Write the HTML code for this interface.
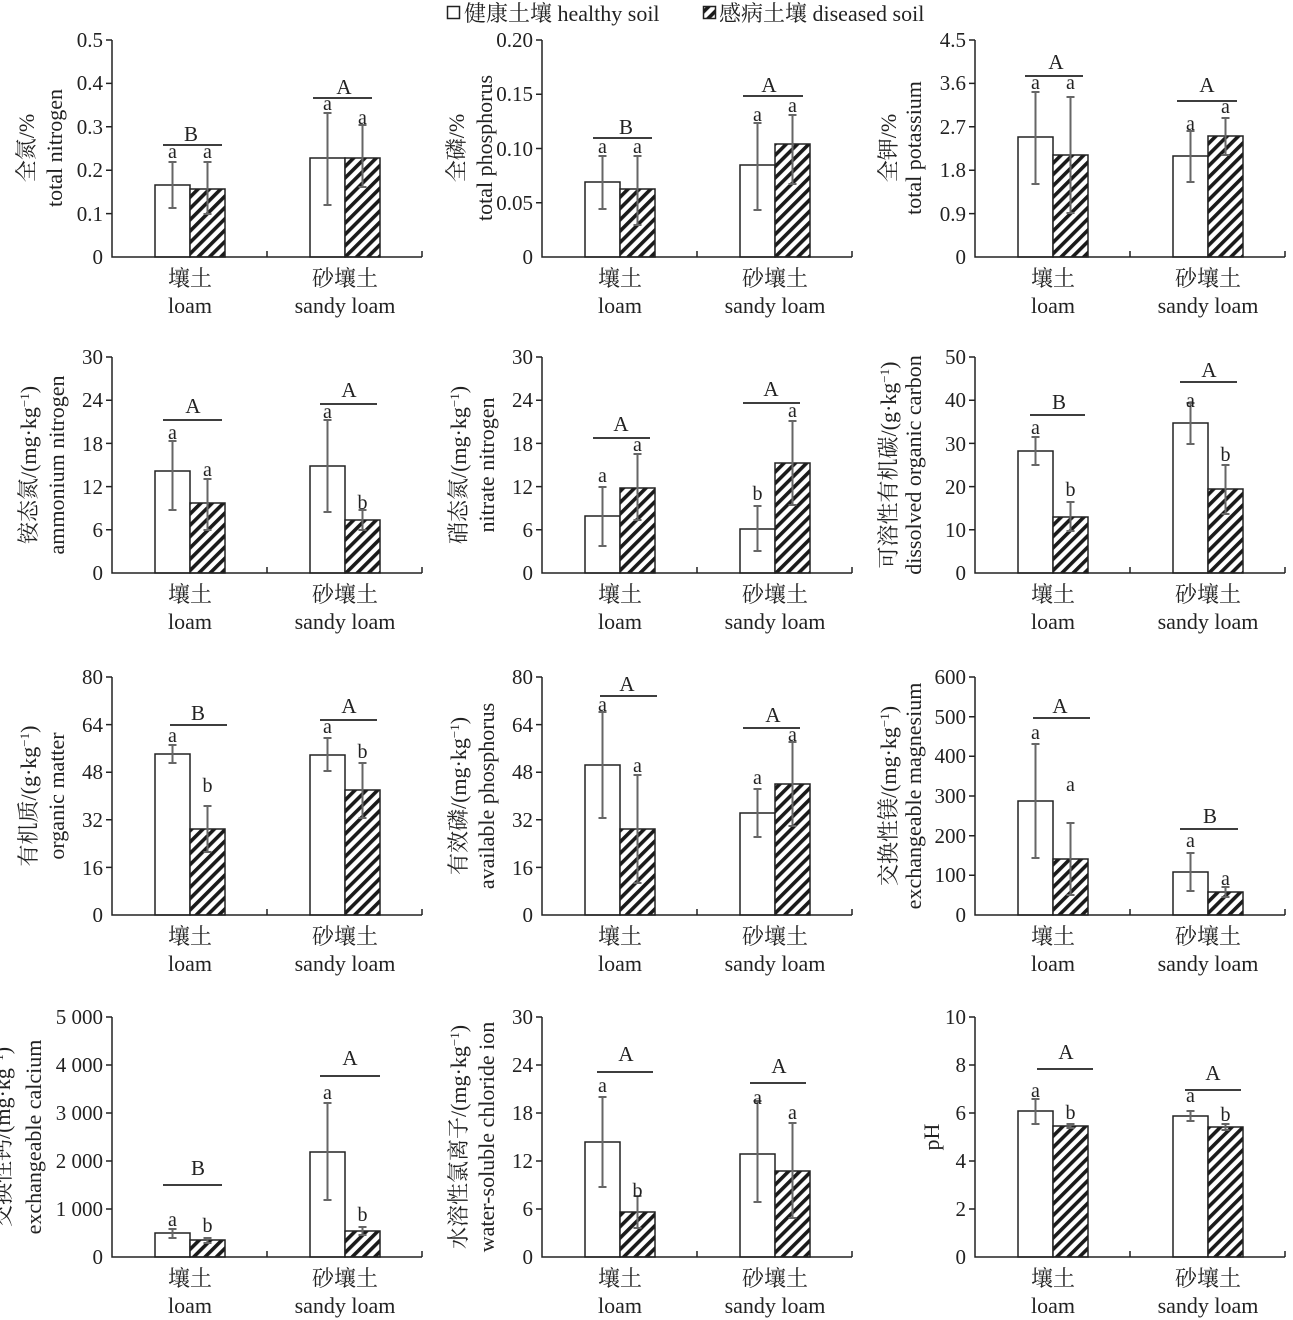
<!DOCTYPE html>
<html><head><meta charset="utf-8"><style>
html,body{margin:0;padding:0;background:#fff}
svg{display:block}
text{font-family:"Liberation Serif","Noto Serif CJK SC","Noto Sans CJK SC",serif;fill:#222}
.t{font-size:21px;text-anchor:end}
.c{font-size:22px;text-anchor:middle}
.l{font-size:20px;text-anchor:middle}
.g{font-size:21px;text-anchor:middle}
.yl{font-size:22px;text-anchor:middle}
.bh{fill:#fff;stroke:#222;stroke-width:1.5}
.bd{fill:url(#h);stroke:#222;stroke-width:1.5}
.e{stroke:#666;stroke-width:2;fill:none}
.ax{stroke:#222;stroke-width:1.5;fill:none}
.sl{stroke:#222;stroke-width:1.8}
</style></head><body>
<svg width="1293" height="1320" viewBox="0 0 1293 1320" xmlns="http://www.w3.org/2000/svg">
<defs>
<pattern id="h" patternUnits="userSpaceOnUse" width="8" height="8" patternTransform="rotate(45)">
<rect width="8" height="8" fill="#fff"/><rect x="0" y="0" width="3.6" height="8" fill="#1a1a1a"/>
</pattern>
</defs>

<rect x="447.5" y="6.5" width="12" height="12" fill="#fff" stroke="#222" stroke-width="1.5"/>
<text x="464" y="21" style="font-size:22px">健康土壤 healthy soil</text>
<rect x="703.5" y="6.5" width="12" height="12" fill="url(#h)" stroke="#222" stroke-width="1.5"/>
<text x="719" y="21" style="font-size:22px">感病土壤 diseased soil</text>

<!-- P1 -->
<g>
<rect class="bh" x="155" y="185" width="35" height="72"/><rect class="bd" x="190" y="189" width="35" height="68"/>
<rect class="bh" x="310" y="158" width="35" height="99"/><rect class="bd" x="345" y="158" width="35" height="99"/>
<path class="e" d="M172.5 162V208M168.5 162h8M168.5 208h8M207.5 162V214M203.5 162h8M203.5 214h8M327.5 113V205M323.5 113h8M323.5 205h8M362.5 125V187M358.5 125h8M358.5 187h8"/>
<path class="ax" d="M112 40V257H422M106 40H112M106 83.4H112M106 126.8H112M106 170.2H112M106 213.6H112M267 257V251M422 257V251"/>
<text class="t" x="103" y="47">0.5</text><text class="t" x="103" y="90">0.4</text><text class="t" x="103" y="134">0.3</text><text class="t" x="103" y="177">0.2</text><text class="t" x="103" y="221">0.1</text><text class="t" x="103" y="264">0</text>
<line class="sl" x1="163" y1="145" x2="222" y2="145"/><text class="g" x="191" y="141">B</text>
<line class="sl" x1="313" y1="98" x2="372" y2="98"/><text class="g" x="344" y="94">A</text>
<text class="l" x="172.5" y="158">a</text><text class="l" x="207.5" y="158">a</text><text class="l" x="327.5" y="110">a</text><text class="l" x="362.5" y="124">a</text>
<text class="yl" transform="translate(34,148) rotate(-90)">全氮/%</text>
<text class="yl" transform="translate(62,148) rotate(-90)">total nitrogen</text>
<text class="c" x="190" y="286">壤土</text><text class="c" x="190" y="313">loam</text>
<text class="c" x="345" y="286">砂壤土</text><text class="c" x="345" y="313">sandy loam</text>
</g>
<!-- P2 -->
<g transform="translate(430,0)">
<rect class="bh" x="155" y="182" width="35" height="75"/><rect class="bd" x="190" y="189" width="35" height="68"/>
<rect class="bh" x="310" y="165" width="35" height="92"/><rect class="bd" x="345" y="144" width="35" height="113"/>
<path class="e" d="M172.5 156V209M168.5 156h8M168.5 209h8M207.5 156V225M203.5 156h8M203.5 225h8M327.5 123V210M323.5 123h8M323.5 210h8M362.5 115V184M358.5 115h8M358.5 184h8"/>
<path class="ax" d="M112 40V257H422M106 40H112M106 94.25H112M106 148.5H112M106 202.75H112M267 257V251M422 257V251"/>
<text class="t" x="103" y="47">0.20</text><text class="t" x="103" y="101">0.15</text><text class="t" x="103" y="156">0.10</text><text class="t" x="103" y="210">0.05</text><text class="t" x="103" y="264">0</text>
<line class="sl" x1="163" y1="138" x2="222" y2="138"/><text class="g" x="196" y="134">B</text>
<line class="sl" x1="313" y1="96" x2="373" y2="96"/><text class="g" x="339" y="92">A</text>
<text class="l" x="172.5" y="153">a</text><text class="l" x="207.5" y="153">a</text><text class="l" x="327.5" y="121">a</text><text class="l" x="362.5" y="112">a</text>
<text class="yl" transform="translate(34,148) rotate(-90)">全磷/%</text>
<text class="yl" transform="translate(62,148) rotate(-90)">total phosphorus</text>
<text class="c" x="190" y="286">壤土</text><text class="c" x="190" y="313">loam</text>
<text class="c" x="345" y="286">砂壤土</text><text class="c" x="345" y="313">sandy loam</text>
</g>
<!-- P3 -->
<g transform="translate(863,0)">
<rect class="bh" x="155" y="137" width="35" height="120"/><rect class="bd" x="190" y="155" width="35" height="102"/>
<rect class="bh" x="310" y="156" width="35" height="101"/><rect class="bd" x="345" y="136" width="35" height="121"/>
<path class="e" d="M172.5 92V184M168.5 92h8M168.5 184h8M207.5 97V213M203.5 97h8M203.5 213h8M327.5 131V182M323.5 131h8M323.5 182h8M362.5 118V155M358.5 118h8M358.5 155h8"/>
<path class="ax" d="M112 40V257H422M106 40H112M106 83.4H112M106 126.8H112M106 170.2H112M106 213.6H112M267 257V251M422 257V251"/>
<text class="t" x="103" y="47">4.5</text><text class="t" x="103" y="90">3.6</text><text class="t" x="103" y="134">2.7</text><text class="t" x="103" y="177">1.8</text><text class="t" x="103" y="221">0.9</text><text class="t" x="103" y="264">0</text>
<line class="sl" x1="162" y1="76" x2="220" y2="76"/><text class="g" x="193" y="69">A</text>
<line class="sl" x1="314" y1="101" x2="374" y2="101"/><text class="g" x="344" y="92">A</text>
<text class="l" x="172.5" y="89">a</text><text class="l" x="207.5" y="89">a</text><text class="l" x="327.5" y="130">a</text><text class="l" x="362.5" y="113">a</text>
<text class="yl" transform="translate(33,148) rotate(-90)">全钾/%</text>
<text class="yl" transform="translate(58,148) rotate(-90)">total potassium</text>
<text class="c" x="190" y="286">壤土</text><text class="c" x="190" y="313">loam</text>
<text class="c" x="345" y="286">砂壤土</text><text class="c" x="345" y="313">sandy loam</text>
</g>

<!-- P4 -->
<g>
<rect class="bh" x="155" y="471" width="35" height="102"/><rect class="bd" x="190" y="503" width="35" height="70"/>
<rect class="bh" x="310" y="466" width="35" height="107"/><rect class="bd" x="345" y="520" width="35" height="53"/>
<path class="e" d="M172.5 441V510M168.5 441h8M168.5 510h8M207.5 479V530M203.5 479h8M203.5 530h8M327.5 420V512M323.5 420h8M323.5 512h8M362.5 510V530M358.5 510h8M358.5 530h8"/>
<path class="ax" d="M112 357V573H422M106 357H112M106 400.2H112M106 443.4H112M106 486.6H112M106 529.8H112M267 573V567M422 573V567"/>
<text class="t" x="103" y="364">30</text><text class="t" x="103" y="407">24</text><text class="t" x="103" y="451">18</text><text class="t" x="103" y="494">12</text><text class="t" x="103" y="537">6</text><text class="t" x="103" y="580">0</text>
<line class="sl" x1="163" y1="420" x2="222" y2="420"/><text class="g" x="193" y="413">A</text>
<line class="sl" x1="320" y1="404" x2="377" y2="404"/><text class="g" x="349" y="397">A</text>
<text class="l" x="172.5" y="439">a</text><text class="l" x="207.5" y="476">a</text><text class="l" x="327.5" y="418">a</text><text class="l" x="362.5" y="509">b</text>
<text class="yl" transform="translate(36,465) rotate(-90)">铵态氮/(mg·kg<tspan dy="-7" style="font-size:13px">−1</tspan><tspan dy="7">)</tspan></text>
<text class="yl" transform="translate(64,465) rotate(-90)">ammonium nitrogen</text>
<text class="c" x="190" y="602">壤土</text><text class="c" x="190" y="629">loam</text>
<text class="c" x="345" y="602">砂壤土</text><text class="c" x="345" y="629">sandy loam</text>
</g>
<!-- P5 -->
<g transform="translate(430,0)">
<rect class="bh" x="155" y="516" width="35" height="57"/><rect class="bd" x="190" y="488" width="35" height="85"/>
<rect class="bh" x="310" y="529" width="35" height="44"/><rect class="bd" x="345" y="463" width="35" height="110"/>
<path class="e" d="M172.5 487V546M168.5 487h8M168.5 546h8M207.5 454V520M203.5 454h8M203.5 520h8M327.5 506V551M323.5 506h8M323.5 551h8M362.5 421V505M358.5 421h8M358.5 505h8"/>
<path class="ax" d="M112 357V573H422M106 357H112M106 400.2H112M106 443.4H112M106 486.6H112M106 529.8H112M267 573V567M422 573V567"/>
<text class="t" x="103" y="364">30</text><text class="t" x="103" y="407">24</text><text class="t" x="103" y="451">18</text><text class="t" x="103" y="494">12</text><text class="t" x="103" y="537">6</text><text class="t" x="103" y="580">0</text>
<line class="sl" x1="163" y1="438" x2="220" y2="438"/><text class="g" x="191" y="431">A</text>
<line class="sl" x1="313" y1="403" x2="370" y2="403"/><text class="g" x="341" y="396">A</text>
<text class="l" x="172.5" y="482">a</text><text class="l" x="207.5" y="451">a</text><text class="l" x="327.5" y="500">b</text><text class="l" x="362.5" y="417">a</text>
<text class="yl" transform="translate(36,465) rotate(-90)">硝态氮/(mg·kg<tspan dy="-7" style="font-size:13px">−1</tspan><tspan dy="7">)</tspan></text>
<text class="yl" transform="translate(64,465) rotate(-90)">nitrate nitrogen</text>
<text class="c" x="190" y="602">壤土</text><text class="c" x="190" y="629">loam</text>
<text class="c" x="345" y="602">砂壤土</text><text class="c" x="345" y="629">sandy loam</text>
</g>
<!-- P6 -->
<g transform="translate(863,0)">
<rect class="bh" x="155" y="451" width="35" height="122"/><rect class="bd" x="190" y="517" width="35" height="56"/>
<rect class="bh" x="310" y="423" width="35" height="150"/><rect class="bd" x="345" y="489" width="35" height="84"/>
<path class="e" d="M172.5 437V465M168.5 437h8M168.5 465h8M207.5 502V531M203.5 502h8M203.5 531h8M327.5 403V444M323.5 403h8M323.5 444h8M362.5 465V514M358.5 465h8M358.5 514h8"/>
<path class="ax" d="M112 357V573H422M106 357H112M106 400.2H112M106 443.4H112M106 486.6H112M106 529.8H112M267 573V567M422 573V567"/>
<text class="t" x="103" y="364">50</text><text class="t" x="103" y="407">40</text><text class="t" x="103" y="451">30</text><text class="t" x="103" y="494">20</text><text class="t" x="103" y="537">10</text><text class="t" x="103" y="580">0</text>
<line class="sl" x1="167" y1="415" x2="222" y2="415"/><text class="g" x="196" y="409">B</text>
<line class="sl" x1="317" y1="382" x2="374" y2="382"/><text class="g" x="346" y="377">A</text>
<text class="l" x="172.5" y="434">a</text><text class="l" x="207.5" y="496">b</text><text class="l" x="327.5" y="407">a</text><text class="l" x="362.5" y="461">b</text>
<text class="yl" transform="translate(33,465) rotate(-90)">可溶性有机碳/(g·kg<tspan dy="-7" style="font-size:13px">−1</tspan><tspan dy="7">)</tspan></text>
<text class="yl" transform="translate(58,465) rotate(-90)">dissolved organic carbon</text>
<text class="c" x="190" y="602">壤土</text><text class="c" x="190" y="629">loam</text>
<text class="c" x="345" y="602">砂壤土</text><text class="c" x="345" y="629">sandy loam</text>
</g>

<!-- P7 -->
<g>
<rect class="bh" x="155" y="754" width="35" height="161"/><rect class="bd" x="190" y="829" width="35" height="86"/>
<rect class="bh" x="310" y="755" width="35" height="160"/><rect class="bd" x="345" y="790" width="35" height="125"/>
<path class="e" d="M172.5 745V763M168.5 745h8M168.5 763h8M207.5 806V852M203.5 806h8M203.5 852h8M327.5 738V771M323.5 738h8M323.5 771h8M362.5 763V818M358.5 763h8M358.5 818h8"/>
<path class="ax" d="M112 677V915H422M106 677H112M106 724.6H112M106 772.2H112M106 819.8H112M106 867.4H112M267 915V909M422 915V909"/>
<text class="t" x="103" y="684">80</text><text class="t" x="103" y="732">64</text><text class="t" x="103" y="779">48</text><text class="t" x="103" y="827">32</text><text class="t" x="103" y="875">16</text><text class="t" x="103" y="922">0</text>
<line class="sl" x1="170" y1="725" x2="227" y2="725"/><text class="g" x="198" y="720">B</text>
<line class="sl" x1="320" y1="720" x2="377" y2="720"/><text class="g" x="349" y="713">A</text>
<text class="l" x="172.5" y="742">a</text><text class="l" x="207.5" y="792">b</text><text class="l" x="327.5" y="733">a</text><text class="l" x="362.5" y="758">b</text>
<text class="yl" transform="translate(36,796) rotate(-90)">有机质/(g·kg<tspan dy="-7" style="font-size:13px">−1</tspan><tspan dy="7">)</tspan></text>
<text class="yl" transform="translate(64,796) rotate(-90)">organic matter</text>
<text class="c" x="190" y="944">壤土</text><text class="c" x="190" y="971">loam</text>
<text class="c" x="345" y="944">砂壤土</text><text class="c" x="345" y="971">sandy loam</text>
</g>
<!-- P8 -->
<g transform="translate(430,0)">
<rect class="bh" x="155" y="765" width="35" height="150"/><rect class="bd" x="190" y="829" width="35" height="86"/>
<rect class="bh" x="310" y="813" width="35" height="102"/><rect class="bd" x="345" y="784" width="35" height="131"/>
<path class="e" d="M172.5 712V818M168.5 712h8M168.5 818h8M207.5 775V883M203.5 775h8M203.5 883h8M327.5 789V837M323.5 789h8M323.5 837h8M362.5 742V826M358.5 742h8M358.5 826h8"/>
<path class="ax" d="M112 677V915H422M106 677H112M106 724.6H112M106 772.2H112M106 819.8H112M106 867.4H112M267 915V909M422 915V909"/>
<text class="t" x="103" y="684">80</text><text class="t" x="103" y="732">64</text><text class="t" x="103" y="779">48</text><text class="t" x="103" y="827">32</text><text class="t" x="103" y="875">16</text><text class="t" x="103" y="922">0</text>
<line class="sl" x1="170" y1="696" x2="227" y2="696"/><text class="g" x="197" y="691">A</text>
<line class="sl" x1="313" y1="728" x2="370" y2="728"/><text class="g" x="343" y="722">A</text>
<text class="l" x="172.5" y="711">a</text><text class="l" x="207.5" y="772">a</text><text class="l" x="327.5" y="784">a</text><text class="l" x="362.5" y="741">a</text>
<text class="yl" transform="translate(36,796) rotate(-90)">有效磷/(mg·kg<tspan dy="-7" style="font-size:13px">−1</tspan><tspan dy="7">)</tspan></text>
<text class="yl" transform="translate(64,796) rotate(-90)">available phosphorus</text>
<text class="c" x="190" y="944">壤土</text><text class="c" x="190" y="971">loam</text>
<text class="c" x="345" y="944">砂壤土</text><text class="c" x="345" y="971">sandy loam</text>
</g>
<!-- P9 -->
<g transform="translate(863,0)">
<rect class="bh" x="155" y="801" width="35" height="114"/><rect class="bd" x="190" y="859" width="35" height="56"/>
<rect class="bh" x="310" y="872" width="35" height="43"/><rect class="bd" x="345" y="892" width="35" height="23"/>
<path class="e" d="M172.5 744V858M168.5 744h8M168.5 858h8M207.5 823V895M203.5 823h8M203.5 895h8M327.5 853V891M323.5 853h8M323.5 891h8M362.5 887V897M358.5 887h8M358.5 897h8"/>
<path class="ax" d="M112 677V915H422M106 677H112M106 716.7H112M106 756.3H112M106 796H112M106 835.7H112M106 875.3H112M267 915V909M422 915V909"/>
<text class="t" x="103" y="684">600</text><text class="t" x="103" y="724">500</text><text class="t" x="103" y="763">400</text><text class="t" x="103" y="803">300</text><text class="t" x="103" y="843">200</text><text class="t" x="103" y="882">100</text><text class="t" x="103" y="922">0</text>
<line class="sl" x1="170" y1="718" x2="227" y2="718"/><text class="g" x="197" y="713">A</text>
<line class="sl" x1="317" y1="829" x2="375" y2="829"/><text class="g" x="347" y="823">B</text>
<text class="l" x="172.5" y="739">a</text><text class="l" x="207.5" y="791">a</text><text class="l" x="327.5" y="847">a</text><text class="l" x="362.5" y="885">a</text>
<text class="yl" transform="translate(33,796) rotate(-90)">交换性镁/(mg·kg<tspan dy="-7" style="font-size:13px">−1</tspan><tspan dy="7">)</tspan></text>
<text class="yl" transform="translate(58,796) rotate(-90)">exchangeable magnesium</text>
<text class="c" x="190" y="944">壤土</text><text class="c" x="190" y="971">loam</text>
<text class="c" x="345" y="944">砂壤土</text><text class="c" x="345" y="971">sandy loam</text>
</g>

<!-- P10 -->
<g>
<rect class="bh" x="155" y="1233" width="35" height="24"/><rect class="bd" x="190" y="1240" width="35" height="17"/>
<rect class="bh" x="310" y="1152" width="35" height="105"/><rect class="bd" x="345" y="1231" width="35" height="26"/>
<path class="e" d="M172.5 1229V1238M168.5 1229h8M168.5 1238h8M207.5 1238V1243M203.5 1238h8M203.5 1243h8M327.5 1103V1200M323.5 1103h8M323.5 1200h8M362.5 1227V1235M358.5 1227h8M358.5 1235h8"/>
<path class="ax" d="M112 1017V1257H422M106 1017H112M106 1065H112M106 1113H112M106 1161H112M106 1209H112M267 1257V1251M422 1257V1251"/>
<text class="t" x="103" y="1024">5 000</text><text class="t" x="103" y="1072">4 000</text><text class="t" x="103" y="1120">3 000</text><text class="t" x="103" y="1168">2 000</text><text class="t" x="103" y="1216">1 000</text><text class="t" x="103" y="1264">0</text>
<line class="sl" x1="163" y1="1185" x2="222" y2="1185"/><text class="g" x="198" y="1175">B</text>
<line class="sl" x1="320" y1="1076" x2="380" y2="1076"/><text class="g" x="350" y="1065">A</text>
<text class="l" x="172.5" y="1226">a</text><text class="l" x="207.5" y="1232">b</text><text class="l" x="327.5" y="1099">a</text><text class="l" x="362.5" y="1221">b</text>
<text class="yl" transform="translate(10,1137) rotate(-90)">交换性钙/(mg·kg<tspan dy="-7" style="font-size:13px">−1</tspan><tspan dy="7">)</tspan></text>
<text class="yl" transform="translate(41,1137) rotate(-90)">exchangeable calcium</text>
<text class="c" x="190" y="1286">壤土</text><text class="c" x="190" y="1313">loam</text>
<text class="c" x="345" y="1286">砂壤土</text><text class="c" x="345" y="1313">sandy loam</text>
</g>
<!-- P11 -->
<g transform="translate(430,0)">
<rect class="bh" x="155" y="1142" width="35" height="115"/><rect class="bd" x="190" y="1212" width="35" height="45"/>
<rect class="bh" x="310" y="1154" width="35" height="103"/><rect class="bd" x="345" y="1171" width="35" height="86"/>
<path class="e" d="M172.5 1097V1187M168.5 1097h8M168.5 1187h8M207.5 1196V1228M203.5 1196h8M203.5 1228h8M327.5 1101V1202M323.5 1101h8M323.5 1202h8M362.5 1123V1218M358.5 1123h8M358.5 1218h8"/>
<path class="ax" d="M112 1017V1257H422M106 1017H112M106 1065H112M106 1113H112M106 1161H112M106 1209H112M267 1257V1251M422 1257V1251"/>
<text class="t" x="103" y="1024">30</text><text class="t" x="103" y="1072">24</text><text class="t" x="103" y="1120">18</text><text class="t" x="103" y="1168">12</text><text class="t" x="103" y="1216">6</text><text class="t" x="103" y="1264">0</text>
<line class="sl" x1="167" y1="1072" x2="223" y2="1072"/><text class="g" x="196" y="1061">A</text>
<line class="sl" x1="320" y1="1083" x2="376" y2="1083"/><text class="g" x="349" y="1073">A</text>
<text class="l" x="172.5" y="1092">a</text><text class="l" x="207.5" y="1197">b</text><text class="l" x="327.5" y="1104">a</text><text class="l" x="362.5" y="1119">a</text>
<text class="yl" transform="translate(36,1137) rotate(-90)">水溶性氯离子/(mg·kg<tspan dy="-7" style="font-size:13px">−1</tspan><tspan dy="7">)</tspan></text>
<text class="yl" transform="translate(64,1137) rotate(-90)">water-soluble chloride ion</text>
<text class="c" x="190" y="1286">壤土</text><text class="c" x="190" y="1313">loam</text>
<text class="c" x="345" y="1286">砂壤土</text><text class="c" x="345" y="1313">sandy loam</text>
</g>
<!-- P12 -->
<g transform="translate(863,0)">
<rect class="bh" x="155" y="1111" width="35" height="146"/><rect class="bd" x="190" y="1126" width="35" height="131"/>
<rect class="bh" x="310" y="1116" width="35" height="141"/><rect class="bd" x="345" y="1127" width="35" height="130"/>
<path class="e" d="M172.5 1099V1124M168.5 1099h8M168.5 1124h8M207.5 1124V1128M203.5 1124h8M203.5 1128h8M327.5 1111V1121M323.5 1111h8M323.5 1121h8M362.5 1124V1130M358.5 1124h8M358.5 1130h8"/>
<path class="ax" d="M112 1017V1257H422M106 1017H112M106 1065H112M106 1113H112M106 1161H112M106 1209H112M267 1257V1251M422 1257V1251"/>
<text class="t" x="103" y="1024">10</text><text class="t" x="103" y="1072">8</text><text class="t" x="103" y="1120">6</text><text class="t" x="103" y="1168">4</text><text class="t" x="103" y="1216">2</text><text class="t" x="103" y="1264">0</text>
<line class="sl" x1="174" y1="1069" x2="230" y2="1069"/><text class="g" x="203" y="1059">A</text>
<line class="sl" x1="322" y1="1090" x2="378" y2="1090"/><text class="g" x="350" y="1080">A</text>
<text class="l" x="172.5" y="1097">a</text><text class="l" x="207.5" y="1119">b</text><text class="l" x="327.5" y="1102">a</text><text class="l" x="362.5" y="1121">b</text>
<text class="yl" transform="translate(76,1137) rotate(-90)">pH</text>
<text class="c" x="190" y="1286">壤土</text><text class="c" x="190" y="1313">loam</text>
<text class="c" x="345" y="1286">砂壤土</text><text class="c" x="345" y="1313">sandy loam</text>
</g>
</svg>
</body></html>
